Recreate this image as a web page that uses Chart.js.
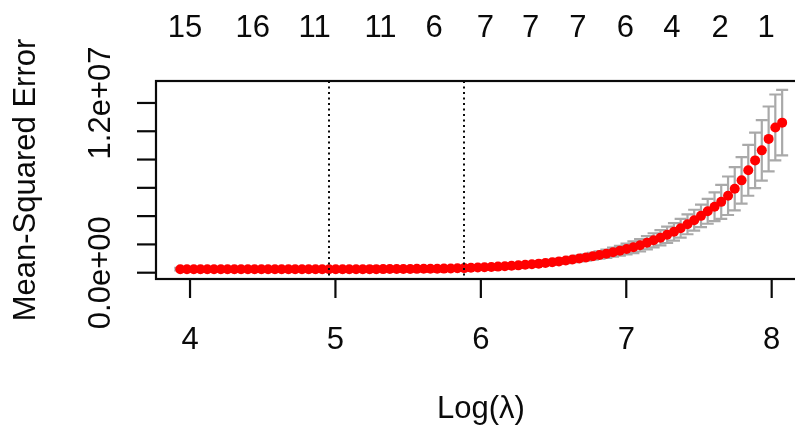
<!DOCTYPE html>
<html>
<head>
<meta charset="utf-8">
<script src="https://cdn.jsdelivr.net/npm/chart.js@4"></script>
<style>
  html, body { margin: 0; padding: 0; background: #fff; overflow: hidden; }
  canvas { display: block; }
</style>
</head>
<body>
<canvas id="cv" width="820" height="428"></canvas>
<script>
// log(lambda) grid, smallest to largest
const logLambda = [
  3.933, 3.979, 4.026, 4.072, 4.119, 4.165, 4.212, 4.258, 4.305, 4.351,
  4.398, 4.444, 4.491, 4.537, 4.584, 4.630, 4.677, 4.723, 4.770, 4.816,
  4.863, 4.909, 4.956, 5.002, 5.049, 5.095, 5.142, 5.188, 5.235, 5.281,
  5.328, 5.374, 5.421, 5.467, 5.514, 5.560, 5.607, 5.653, 5.700, 5.746,
  5.793, 5.839, 5.886, 5.932, 5.979, 6.025, 6.072, 6.118, 6.165, 6.211,
  6.258, 6.305, 6.351, 6.398, 6.444, 6.491, 6.537, 6.584, 6.630, 6.677,
  6.723, 6.770, 6.816, 6.863, 6.909, 6.956, 7.002, 7.049, 7.095, 7.142,
  7.188, 7.235, 7.281, 7.328, 7.374, 7.421, 7.467, 7.514, 7.560, 7.607,
  7.653, 7.700, 7.746, 7.793, 7.839, 7.886, 7.932, 7.979, 8.025, 8.072,
];

// cross-validated MSE, in millions
const cvm = [
  0.250, 0.249, 0.249, 0.248, 0.248, 0.248, 0.247, 0.247, 0.247, 0.246,
  0.246, 0.246, 0.246, 0.245, 0.245, 0.245, 0.245, 0.245, 0.245, 0.245,
  0.245, 0.244, 0.243, 0.244, 0.245, 0.246, 0.247, 0.249, 0.251, 0.253,
  0.255, 0.258, 0.261, 0.264, 0.268, 0.272, 0.276, 0.280, 0.285, 0.290,
  0.300, 0.310, 0.325, 0.345, 0.365, 0.385, 0.405, 0.430, 0.460, 0.490,
  0.52, 0.56, 0.60, 0.64, 0.69, 0.74, 0.80, 0.86, 0.93, 1.00,
  1.08, 1.16, 1.25, 1.34, 1.45, 1.55, 1.67, 1.80, 1.94, 2.12,
  2.29, 2.47, 2.68, 2.89, 3.14, 3.42, 3.71, 4.02, 4.34, 4.66,
  5.01, 5.44, 5.93, 6.53, 7.24, 7.94, 8.65, 9.46, 10.27, 10.61,
];

// standard error of cvm, in millions
const cvsd = [
  0.090, 0.090, 0.090, 0.090, 0.090, 0.090, 0.090, 0.090, 0.090, 0.090,
  0.090, 0.090, 0.090, 0.090, 0.090, 0.090, 0.090, 0.090, 0.090, 0.090,
  0.090, 0.090, 0.090, 0.090, 0.090, 0.090, 0.090, 0.090, 0.090, 0.090,
  0.090, 0.091, 0.092, 0.093, 0.094, 0.095, 0.096, 0.097, 0.098, 0.100,
  0.102, 0.104, 0.106, 0.109, 0.112, 0.115, 0.118, 0.122, 0.126, 0.130,
  0.135, 0.140, 0.146, 0.152, 0.158, 0.165, 0.172, 0.180, 0.190, 0.205,
  0.22, 0.24, 0.26, 0.29, 0.32, 0.35, 0.38, 0.41, 0.44, 0.47,
  0.50, 0.54, 0.58, 0.62, 0.66, 0.70, 0.74, 0.80, 0.88, 1.02,
  1.20, 1.36, 1.53, 1.64, 1.80, 1.96, 2.14, 2.29, 2.33, 2.32,
];

const lambdaMin = 4.956;
const lambda1se = 5.886;

const xTicks = [4, 5, 6, 7, 8];
const yTicks = [0, 2, 4, 6, 8, 10, 12];
const yTickLabels = { 0: "0.0e+00", 12: "1.2e+07" };

// number of nonzero coefficients shown along the top
const nzAt = [3.965, 4.432, 4.857, 5.310, 5.678, 6.031, 6.342, 6.668, 6.994, 7.313, 7.645, 7.962];
const nzLabels = ["15", "16", "11", "11", "6", "7", "7", "7", "6", "4", "2", "1"];

const FONT = '31px "Liberation Sans", Arial, sans-serif';
const INK = "#0a0a0a";

const errorBars = {
  id: "errorBars",
  beforeDatasetsDraw(chart) {
    const { ctx, scales: { x, y } } = chart;
    const span = logLambda[logLambda.length - 1] - logLambda[0];
    const w = 0.01 * span;
    ctx.save();
    ctx.strokeStyle = "#a9a9a9";
    ctx.lineWidth = 2.2;
    logLambda.forEach((l, i) => {
      const yUp = y.getPixelForValue(cvm[i] + cvsd[i]);
      const yLo = y.getPixelForValue(cvm[i] - cvsd[i]);
      const xc = x.getPixelForValue(l);
      const x0 = x.getPixelForValue(l - w);
      const x1 = x.getPixelForValue(l + w);
      ctx.beginPath();
      ctx.moveTo(xc, yUp); ctx.lineTo(xc, yLo);
      ctx.moveTo(x0, yUp); ctx.lineTo(x1, yUp);
      ctx.moveTo(x0, yLo); ctx.lineTo(x1, yLo);
      ctx.stroke();
    });
    ctx.restore();
  },
};

const frame = {
  id: "frame",
  afterDatasetsDraw(chart) {
    const { ctx, chartArea: a, scales: { x, y } } = chart;
    ctx.save();

    // selected lambdas
    ctx.strokeStyle = INK;
    ctx.lineWidth = 2;
    ctx.setLineDash([2, 3.5]);
    [lambdaMin, lambda1se].forEach((l) => {
      const px = Math.round(x.getPixelForValue(l));
      ctx.beginPath();
      ctx.moveTo(px, a.top);
      ctx.lineTo(px, a.bottom);
      ctx.stroke();
    });
    ctx.setLineDash([]);

    // box
    ctx.lineWidth = 2.2;
    ctx.strokeRect(a.left, a.top, a.right - a.left, a.bottom - a.top);

    ctx.fillStyle = INK;
    ctx.font = FONT;

    // x axis
    ctx.textAlign = "center";
    ctx.textBaseline = "alphabetic";
    xTicks.forEach((t) => {
      const px = x.getPixelForValue(t);
      ctx.beginPath();
      ctx.moveTo(px, a.bottom);
      ctx.lineTo(px, a.bottom + 19);
      ctx.stroke();
      ctx.fillText(String(t), px, a.bottom + 70);
    });
    ctx.fillText("Log(λ)", (a.left + a.right) / 2, a.bottom + 139);

    // top axis: nonzero counts
    nzAt.forEach((l, i) => {
      ctx.fillText(nzLabels[i], x.getPixelForValue(l), a.top - 44);
    });

    // y axis
    yTicks.forEach((t) => {
      const py = y.getPixelForValue(t);
      ctx.beginPath();
      ctx.moveTo(a.left, py);
      ctx.lineTo(a.left - 19, py);
      ctx.stroke();
      if (yTickLabels[t]) {
        ctx.save();
        ctx.translate(a.left - 46, py);
        ctx.rotate(-Math.PI / 2);
        ctx.fillText(yTickLabels[t], 0, 0);
        ctx.restore();
      }
    });
    ctx.save();
    ctx.translate(35, (a.top + a.bottom) / 2);
    ctx.rotate(-Math.PI / 2);
    ctx.fillText("Mean-Squared Error", 0, 0);
    ctx.restore();

    ctx.restore();
  },
};

new Chart(document.getElementById("cv"), {
  type: "scatter",
  data: {
    datasets: [{
      data: logLambda.map((l, i) => ({ x: l, y: cvm[i] })),
      backgroundColor: "#ff0000",
      borderWidth: 0,
      pointRadius: 5,
      pointHoverRadius: 5,
    }],
  },
  options: {
    responsive: false,
    animation: false,
    layout: { padding: { left: 156, top: 81, right: 14, bottom: 149 } },
    plugins: { legend: { display: false }, tooltip: { enabled: false } },
    scales: {
      x: { type: "linear", display: false, min: 3.766, max: 8.236 },
      y: { type: "linear", display: false, min: -0.445, max: 13.553 },
    },
  },
  plugins: [errorBars, frame],
});
</script>
</body>
</html>
